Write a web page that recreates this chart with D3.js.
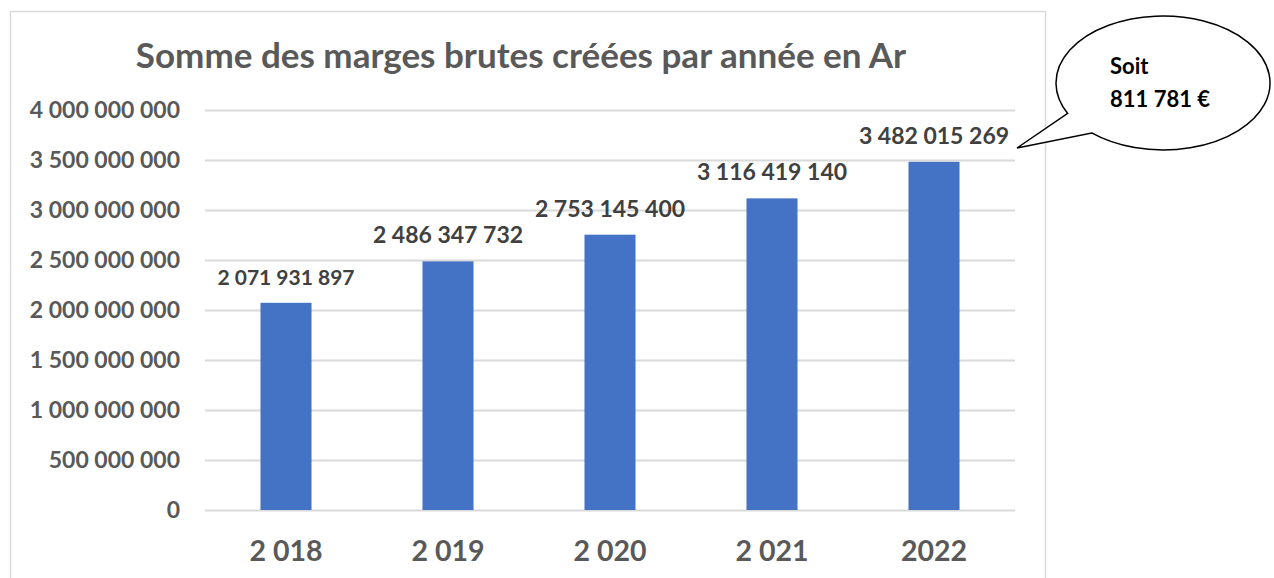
<!DOCTYPE html>
<html>
<head>
<meta charset="utf-8">
<script src="https://cdn.jsdelivr.net/npm/d3@7"></script>
<style>
	body { margin: 0; background: #fff; }
	svg text { font-family: Lato, "Open Sans", sans-serif; font-weight: bold; }
</style>
</head>
<body>
<svg width="1274" height="578"></svg>
<script>
var years = ["2 018", "2 019", "2 020", "2 021", "2022"];
var marges = [2071931897, 2486347732, 2753145400, 3116419140, 3482015269];
var valueLabels = ["2 071 931 897", "2 486 347 732", "2 753 145 400", "3 116 419 140", "3 482 015 269"];
var yTicks = [0, 500000000, 1000000000, 1500000000, 2000000000, 2500000000, 3000000000, 3500000000, 4000000000];
var titleText = "Somme des marges brutes créées par année en Ar";
var calloutLines = ["Soit", "811 781 €"];

var data = years.map(function (d, i) { return {"year": d, "value": marges[i], "label": valueLabels[i]}; });

var svg = d3.select("svg");
var margin = {top: 110, left: 205, right: 259, bottom: 68};
var width = 1274 - margin.left - margin.right,
	height = 578 - margin.top - margin.bottom;

// chart frame (bottom edge off-screen)
svg.append("path")
	.attr("d", "M10.5,600 V11.5 H1045.5 V600")
	.attr("fill", "none")
	.attr("stroke", "#d9d9d9")
	.attr("stroke-width", 1.5);

svg.append("text")
	.attr("x", 521)
	.attr("y", 68)
	.attr("text-anchor", "middle")
	.attr("fill", "#595959")
	.style("font-size", "35px")
	.text(titleText);

var g = svg.append("g").attr("transform", "translate(" + margin.left + "," + margin.top + ")");

var x = d3.scaleBand()
	.range([0, width])
	.domain(years)
	.paddingInner(0.685)
	.paddingOuter(0.3425);

var y = d3.scaleLinear()
	.domain([0, 4000000000])
	.range([height, 0]);

var fmt = function (v) { return d3.format(",")(v).replace(/,/g, " "); };

var yAxis = g.append("g")
	.call(d3.axisLeft(y).tickValues(yTicks).tickSize(-width).tickPadding(25).tickFormat(fmt));
yAxis.select(".domain").remove();
yAxis.selectAll("line").attr("stroke", "#d9d9d9").attr("stroke-width", 2);
yAxis.selectAll("text").attr("fill", "#595959").style("font-size", "23px")
	.style("font-family", "Lato, sans-serif").style("font-weight", "bold");

var xAxis = g.append("g")
	.attr("transform", "translate(0," + height + ")")
	.call(d3.axisBottom(x).tickSize(0).tickPadding(31));
xAxis.select(".domain").remove();
xAxis.selectAll("text").attr("fill", "#595959").style("font-size", "28.5px")
	.style("font-family", "Lato, sans-serif").style("font-weight", "bold");

g.selectAll(".bar")
	.data(data)
	.enter().append("rect")
	.attr("class", "bar")
	.attr("x", function (d) { return x(d.year); })
	.attr("y", function (d) { return y(d.value); })
	.attr("width", x.bandwidth())
	.attr("height", function (d) { return height - y(d.value); })
	.attr("fill", "#4472c4");

// first label is drawn a little smaller in the original
g.selectAll(".lbl")
	.data(data)
	.enter().append("text")
	.attr("class", "lbl")
	.attr("x", function (d) { return x(d.year) + x.bandwidth() / 2; })
	.attr("y", function (d) { return y(d.value) - 18; })
	.attr("text-anchor", "middle")
	.attr("fill", "#404040")
	.style("font-size", function (d, i) { return i == 0 ? "21px" : "23px"; })
	.text(function (d) { return d.label; });

// speech bubble
var cx = 1163, cy = 83, rx = 107, ry = 67;
function pt(a) { return [cx + rx * Math.cos(a), cy + ry * Math.sin(a)]; }
var a1 = 2.67, a2 = 2.30;
var p1 = pt(a1), p2 = pt(a2);
var tip = [1017, 148];
var path = "M" + p2[0] + "," + p2[1] +
	" A" + rx + "," + ry + " 0 1 0 " + p1[0] + "," + p1[1] +
	" L" + tip[0] + "," + tip[1] + " Z";
svg.append("path")
	.attr("d", path)
	.attr("fill", "#fff")
	.attr("stroke", "#000")
	.attr("stroke-width", 1.5);

svg.selectAll(".call")
	.data(calloutLines)
	.enter().append("text")
	.attr("class", "call")
	.attr("x", 1110)
	.attr("y", function (d, i) { return 74 + i * 33; })
	.attr("fill", "#000")
	.style("font-size", "22px")
	.text(function (d) { return d; });
</script>
</body>
</html>
